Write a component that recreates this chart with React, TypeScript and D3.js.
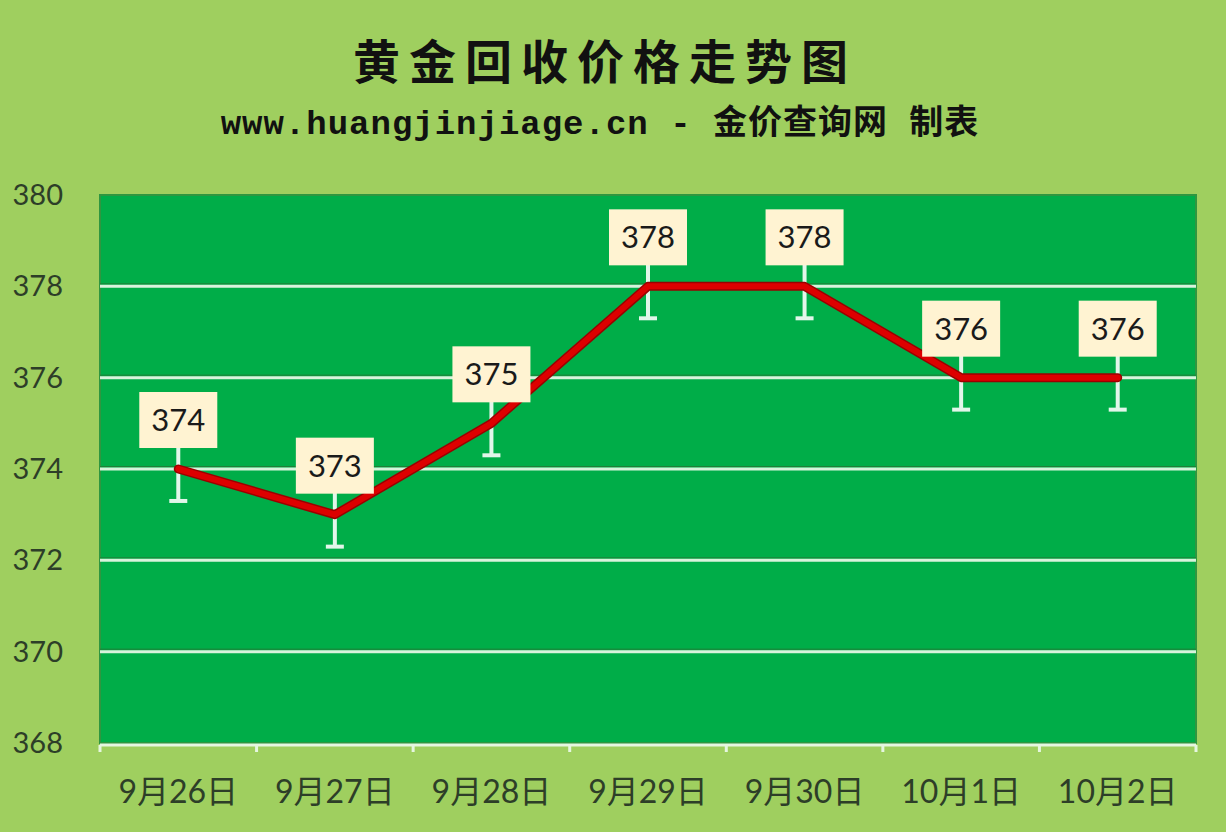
import * as d3 from "d3";

// 数据：日期与回收价
const dates = ["9月26日", "9月27日", "9月28日", "9月29日", "9月30日", "10月1日", "10月2日"];
const prices = [374, 373, 375, 378, 378, 376, 376];
const yTicks = [368, 370, 372, 374, 376, 378, 380];
const errorAmount = 0.7;

const W = 1226;
const H = 832;
const plot = { left: 100, right: 1196, top: 195, bottom: 743 };

export default function App() {
  const x = d3.scaleBand<string>().domain(dates).range([plot.left, plot.right]);
  const y = d3.scaleLinear().domain([368, 380]).range([plot.bottom, plot.top]);
  const cx = (d: string) => (x(d) ?? 0) + x.bandwidth() / 2;

  const points = dates.map((d, i) => ({ date: d, value: prices[i] }));
  const line = d3
    .line<{ date: string; value: number }>()
    .x((p) => cx(p.date))
    .y((p) => y(p.value));

  const edges = dates.map((d) => x(d) ?? 0).concat([plot.right]);
  const boxW = 78;
  const boxH = 56;

  return (
    <svg
      width={W}
      height={H}
      style={{ position: "absolute", left: 0, top: 0, display: "block" }}
    >
      <rect width={W} height={H} fill="#9fcf5f" />

      {/* 标题 */}
      <text
        x={605}
        y={79}
        textAnchor="middle"
        fontFamily="'Noto Sans CJK SC', sans-serif"
        fontWeight={700}
        fontSize={47}
        letterSpacing={9}
        fill="#111"
      >
        黄金回收价格走势图
      </text>
      <text
        x={600}
        y={134}
        textAnchor="middle"
        fontFamily="'Liberation Mono', 'Noto Sans CJK SC', monospace"
        fontWeight={700}
        fontSize={34}
        letterSpacing={1}
        fill="#111"
      >
        www.huangjinjiage.cn - 金价查询网 制表
      </text>

      {/* 绘图区 */}
      <rect
        x={plot.left}
        y={plot.top}
        width={plot.right - plot.left}
        height={plot.bottom - plot.top}
        fill="#00ad48"
        stroke="#2f9640"
        strokeWidth={2}
      />

      {yTicks
        .filter((t) => t > 368 && t < 380)
        .map((t) => (
          <g key={`g${t}`}>
            <line
              x1={plot.left}
              x2={plot.right}
              y1={y(t) - 2.5}
              y2={y(t) - 2.5}
              stroke="#1f7f38"
              strokeWidth={1}
            />
            <line
              x1={plot.left}
              x2={plot.right}
              y1={y(t)}
              y2={y(t)}
              stroke="#d8f3dc"
              strokeWidth={3}
            />
          </g>
        ))}

      {/* X 轴 */}
      <line
        x1={plot.left}
        x2={plot.right}
        y1={plot.bottom + 2}
        y2={plot.bottom + 2}
        stroke="#e6f6e0"
        strokeWidth={3}
      />
      {edges.map((e, i) => (
        <line
          key={`t${i}`}
          x1={e}
          x2={e}
          y1={plot.bottom + 2}
          y2={plot.bottom + 9}
          stroke="#e6f6e0"
          strokeWidth={3}
        />
      ))}

      {/* Y 轴标签 */}
      {yTicks.map((t) => (
        <text
          key={`y${t}`}
          x={63}
          y={y(t) + 10}
          textAnchor="end"
          fontFamily="Lato, 'Open Sans', sans-serif"
          fontSize={29}
          fill="#2d3e28"
        >
          {t}
        </text>
      ))}

      {/* X 轴标签 */}
      {dates.map((d) => (
        <text
          key={`x${d}`}
          x={cx(d)}
          y={803}
          textAnchor="middle"
          fontFamily="Lato, 'Noto Sans CJK SC', sans-serif"
          fontSize={32}
          fill="#2d3e28"
        >
          {d}
        </text>
      ))}

      {/* 误差线 */}
      {points.map((p) => (
        <g key={`e${p.date}`} stroke="#e2f6ea" strokeWidth={4}>
          <line
            x1={cx(p.date)}
            x2={cx(p.date)}
            y1={y(p.value + errorAmount)}
            y2={y(p.value - errorAmount)}
          />
          <line
            x1={cx(p.date) - 9}
            x2={cx(p.date) + 9}
            y1={y(p.value - errorAmount)}
            y2={y(p.value - errorAmount)}
          />
        </g>
      ))}

      {/* 折线 */}
      <path
        d={line(points) ?? ""}
        fill="none"
        stroke="#9a0000"
        strokeWidth={9}
        strokeLinejoin="round"
        strokeLinecap="round"
      />
      <path
        d={line(points) ?? ""}
        fill="none"
        stroke="#dd0000"
        strokeWidth={6}
        strokeLinejoin="round"
        strokeLinecap="round"
      />

      {/* 数据标签 */}
      {points.map((p) => {
        const px = cx(p.date);
        const py = y(p.value);
        return (
          <g key={`l${p.date}`}>
            <rect
              x={px - boxW / 2}
              y={py - 21 - boxH}
              width={boxW}
              height={boxH}
              fill="#fff3d2"
            />
            <text
              x={px}
              y={py - 21 - boxH / 2 + 11}
              textAnchor="middle"
              fontFamily="Lato, 'Open Sans', sans-serif"
              fontSize={31}
              fill="#1a1a1a"
            >
              {p.value}
            </text>
          </g>
        );
      })}
    </svg>
  );
}
